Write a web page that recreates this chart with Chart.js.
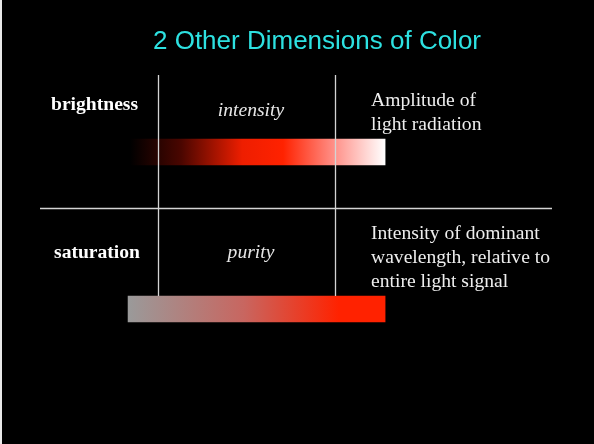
<!DOCTYPE html>
<html><head><meta charset="utf-8">
<script src="https://cdn.jsdelivr.net/npm/chart.js@4"></script>
<style>html,body{margin:0;padding:0;background:#000;overflow:hidden;} canvas{display:block;}</style>
</head><body><canvas id="c" width="594" height="444"></canvas>
<script>
// ---- data ----
const titleText = '2 Other Dimensions of Color';
const categories = ['brightness', 'saturation'];
const dimensionNames = ['intensity', 'purity'];
const descriptions = [
  ['Amplitude of', 'light radiation'],
  ['Intensity of dominant', 'wavelength, relative to', 'entire light signal']
];
const barStart = [17.6, 17.2];
const barEnd = [67.4, 67.4];
const columnRules = [23.05, 57.6];

// ---- styles ----
const gradientStops = [
  [[0, '#000000'], [0.2, '#4a0600'], [0.44, '#ee1e00'], [0.6, '#ff2200'], [0.8, '#ff9088'], [1, '#ffffff']],
  [[0, '#9a9a9a'], [0.45, '#c86660'], [0.82, '#ff2200'], [1, '#ff2200']]
];
const serif = '"Liberation Serif", "Times New Roman", serif';
const sans = '"Liberation Sans", Arial, sans-serif';

const slidePlugin = {
  id: 'slide',
  beforeDraw(chart) {
    const c = chart.ctx;
    c.save();
    c.fillStyle = '#000';
    c.fillRect(0, 0, chart.width, chart.height);
    c.fillStyle = '#e8e8e8';
    c.fillRect(0, 0, 2, chart.height);
    c.restore();
  },
  afterDatasetsDraw(chart) {
    const c = chart.ctx;
    const area = chart.chartArea;
    const xs = chart.scales.x;
    c.save();
    // table rules
    c.strokeStyle = '#d4d4d4';
    c.lineWidth = 1.3;
    columnRules.forEach(v => {
      const px = Math.round(xs.getPixelForValue(v)) + 0.5;
      c.beginPath(); c.moveTo(px, 75); c.lineTo(px, 296); c.stroke();
    });
    c.beginPath(); c.moveTo(area.left, 208.5); c.lineTo(area.right, 208.5); c.stroke();

    // title
    c.fillStyle = '#2de1e1';
    c.font = '26px ' + sans;
    c.textAlign = 'center';
    c.textBaseline = 'alphabetic';
    c.fillText(titleText, 317, 49);

    const rowBase = [110, 258];
    const descBase = [106, 239];
    categories.forEach((cat, i) => {
      c.fillStyle = '#ffffff';
      c.font = 'bold 19.6px ' + serif;
      c.textAlign = 'left';
      c.fillText(cat, i === 0 ? 51 : 54, rowBase[i]);
      c.fillStyle = '#e6e6e6';
      c.font = 'italic 19.6px ' + serif;
      c.textAlign = 'center';
      c.fillText(dimensionNames[i], 251, rowBase[i] + (i === 0 ? 6 : 0));
      c.fillStyle = '#eeeeee';
      c.font = '19.6px ' + serif;
      c.textAlign = 'left';
      descriptions[i].forEach((line, j) => c.fillText(line, 371, descBase[i] + j * 23.8));
    });
    c.restore();
  }
};

new Chart(document.getElementById('c'), {
  type: 'bar',
  data: {
    labels: categories,
    datasets: [{
      data: categories.map((_, i) => [barStart[i], barEnd[i]]),
      barThickness: 26,
      borderWidth: 0,
      borderSkipped: false,
      backgroundColor: (ctx) => {
        const chart = ctx.chart;
        if (!chart.chartArea) return '#ff2200';
        const i = ctx.dataIndex;
        const xs = chart.scales.x;
        const x0 = xs.getPixelForValue(barStart[i]);
        const x1 = xs.getPixelForValue(barEnd[i]);
        const g = chart.ctx.createLinearGradient(x0, 0, x1, 0);
        gradientStops[i].forEach(([o, col]) => g.addColorStop(o, col));
        return g;
      }
    }]
  },
  options: {
    indexAxis: 'y',
    responsive: false,
    animation: false,
    devicePixelRatio: 1,
    layout: { padding: { left: 40, right: 42, top: 73.5, bottom: 56.5 } },
    scales: {
      x: { type: 'linear', min: 0, max: 100, display: false },
      y: { type: 'category', display: false }
    },
    plugins: { legend: { display: false }, tooltip: { enabled: false }, title: { display: false } }
  },
  plugins: [slidePlugin]
});
</script>
</body></html>
